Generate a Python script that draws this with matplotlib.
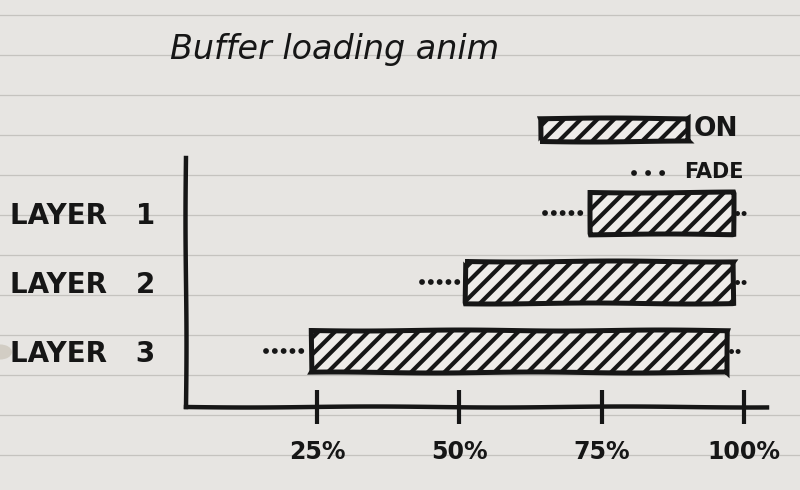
import matplotlib
matplotlib.use("Agg")
import matplotlib.pyplot as plt
import numpy as np
from matplotlib.lines import Line2D
from matplotlib.patches import Rectangle, Circle

# ---- data ----
categories = ["LAYER 1", "LAYER 2", "LAYER 3"]
on_start = [73, 51, 24]          # % where the layer is fully on
on_end = [98, 98, 97]            # % where it ends
fade_in = [8, 7.5, 8]            # % of fade before start
fade_out = [2.5, 2.5, 2.5]       # % of fade after end
xticks = [25, 50, 75, 100]
xtick_labels = ["25%", "50%", "75%", "100%"]
title = "Buffer loading anim"
legend_labels = ["ON", "FADE"]

INK = "#161616"
PAPER = "#e7e5e2"
BARFACE = "#eeece9"
HAND = ["Liberation Sans Narrow", "DejaVu Sans"]

plt.rcParams["hatch.linewidth"] = 3.0
plt.rcParams["hatch.color"] = INK

W, H = 800, 490
fig = plt.figure(figsize=(8, 4.9), dpi=100, facecolor=PAPER)

# ruled paper lines
for yy in np.arange(15, H, 40):
    fig.add_artist(Line2D([0, 1], [1 - yy / H] * 2, transform=fig.transFigure,
                          color="#c5c3bf", lw=0.9, zorder=-5))
# punched hole
fig.add_artist(Circle((0.0, 1 - 352 / H), 0.014, transform=fig.transFigure,
                      color="#d2cdc4", zorder=-4))

ax = fig.add_axes([186 / W, (H - 407) / H, (767 - 186) / W, (407 - 158) / H])
ax.set_facecolor("none")
ax.set_xlim(2, 104)
ax.set_ylim(3.81, 0.2)

pos = np.arange(1, len(categories) + 1)
widths = [e - s for s, e in zip(on_start, on_end)]
bars = ax.barh(pos, widths, left=on_start, height=0.6, facecolor=BARFACE,
               edgecolor=INK, linewidth=3.6, hatch="//", zorder=3)
for b in bars:
    b.set_sketch_params(0.5, 200, 1.0)

# fade dots
for p, s, e, fi, fo in zip(pos, on_start, on_end, fade_in, fade_out):
    ax.plot([s - fi, s - 1.2], [p, p], color=INK, lw=4.2,
            ls=(0, (0.01, 1.5)), dash_capstyle="round", zorder=4)
    ax.plot([e + 0.7, e + fo], [p, p], color=INK, lw=3.6,
            ls=(0, (0.01, 1.3)), dash_capstyle="round", zorder=4)

# axes styling
for side in ["top", "right"]:
    ax.spines[side].set_visible(False)
for side in ["left", "bottom"]:
    ax.spines[side].set_linewidth(3.2)
    ax.spines[side].set_color(INK)
    ax.spines[side].set_sketch_params(0.5, 250, 1.0)

ax.set_xticks(xticks, xtick_labels)
ax.tick_params(axis="x", direction="inout", length=24, width=3, color=INK,
               pad=12, labelsize=17, labelcolor=INK)
ax.set_yticks(pos, [c.replace(" ", "   ") for c in categories])
ax.tick_params(axis="y", length=0, pad=22, labelsize=20, labelcolor=INK)
for lab in ax.get_xticklabels() + ax.get_yticklabels():
    lab.set_family(HAND)
    lab.set_fontweight("bold")

# title
fig.text(170 / W, 1 - 50 / H, title, fontsize=24, style="italic",
         color=INK, va="center", ha="left")

# legend (drawn by hand like the sketch)
leg_box = Rectangle((540 / W, 1 - 141 / H), 148 / W, 23 / H,
                    transform=fig.transFigure, facecolor=BARFACE,
                    edgecolor=INK, linewidth=3.6, hatch="//", zorder=3)
leg_box.set_sketch_params(0.5, 200, 1.0)
fig.add_artist(leg_box)
fig.text(694 / W, 1 - 129 / H, legend_labels[0], fontsize=19, fontweight="bold",
         family=HAND, color=INK, va="center", ha="left")
fig.add_artist(Line2D([634 / W, 668 / W], [1 - 173 / H] * 2,
                      transform=fig.transFigure, color=INK, lw=4.2,
                      ls=(0, (0.01, 2.4)), dash_capstyle="round"))
fig.text(684 / W, 1 - 172 / H, legend_labels[1], fontsize=15, fontweight="bold",
         family=HAND, color=INK, va="center", ha="left")

fig.savefig("out.png", dpi=100, facecolor=PAPER)
